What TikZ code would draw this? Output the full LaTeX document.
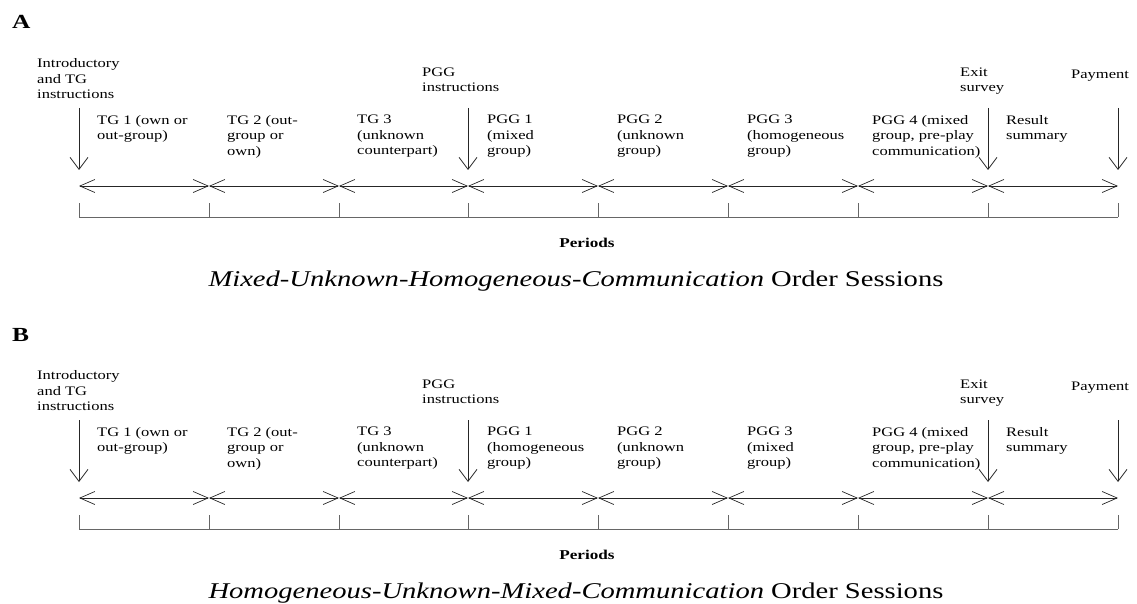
\documentclass[tikz,border=0pt]{standalone}
\usepackage{fontspec}
\setmainfont{Liberation Serif}[FakeStretch=1.27]
\usetikzlibrary{arrows.meta}

\tikzset{
  lbl/.style={anchor=north west,inner sep=0pt,align=left,
    font=\fontsize{13}{15.5}\selectfont,execute at begin node=\strut},
  span/.style={{Straight Barb[length=15pt,width=13pt]}-{Straight Barb[length=15pt,width=13pt]},
    draw=black!85,line width=0.7pt},
  drop/.style={-{Straight Barb[length=12pt,width=18pt]},draw=black!85,line width=0.8pt},
  axis/.style={draw=black!60,line width=0.9pt}
}

% #1 panel letter, #2 shift, #3 PGG 1 group, #4 PGG 3 group, #5 order
% label nodes sit with the first baseline 10.85 below the given y
\newcommand\session[5]{%
\begin{scope}[yshift=#2]
  \node[anchor=base west,inner sep=0pt,font=\fontsize{20}{20}\selectfont\bfseries] (#1) at (12,29) {#1};
  \foreach \i/\x in {0/79,1/209,2/339,3/468,4/598,5/728,6/858,7/988,8/1118} {
    \coordinate (#1t\i) at (\x,186);
    \coordinate (#1b\i) at (\x,217);
    \coordinate (#1d\i) at (\x,108);
    \coordinate (#1e\i) at (\x,170);
    \draw[axis] (#1b\i) -- ++(0,-14);
  }
  \draw[axis] (#1b0) -- (#1b8);
  \foreach \i [evaluate=\i as \j using int(\i+1)] in {0,...,7}
    \draw[span] (#1t\i) -- (#1t\j);
  % entry points
  \node[lbl] (#1intro) at (37,58.5) {Introductory\\and TG\\instructions};
  \node[lbl] (#1pgg) at (422,67.5) {PGG\\instructions};
  \node[lbl] (#1exit) at (960,67.5) {Exit\\survey};
  \node[lbl] (#1pay) at (1071,67.5) {Payment};
  \draw[drop] (#1d0) -- (#1e0);
  \draw[drop] (#1d3) -- (#1e3);
  \draw[drop] (#1d7) -- (#1e7);
  \draw[drop] (#1d8) -- (#1e8);
  % periods
  \node[lbl] (#1tg1) at (97,115) {TG 1 (own or\\out-group)};
  \node[lbl] (#1tg2) at (227,115) {TG 2 (out-\\group or\\own)};
  \node[lbl] (#1tg3) at (357,115) {TG 3\\(unknown\\counterpart)};
  \node[lbl] (#1p1) at (487,115) {PGG 1\\(#3\\group)};
  \node[lbl] (#1p2) at (617,115) {PGG 2\\(unknown\\group)};
  \node[lbl] (#1p3) at (747,115) {PGG 3\\(#4\\group)};
  \node[lbl] (#1p4) at (872,115) {PGG 4 (mixed\\group, pre-play\\communication)};
  \node[lbl] (#1res) at (1006,115) {Result\\summary};
  \node[anchor=base,inner sep=0pt,font=\fontsize{13.5}{14}\selectfont\bfseries] (#1per) at (587,247) {Periods};
  \node[anchor=base,inner sep=0pt,font=\fontsize{22.5}{24}\selectfont] (#1cap) at (576,286) {\textit{#5} Order Sessions};
\end{scope}}

\begin{document}
\begin{tikzpicture}[x=1pt,y=-1pt]
  \useasboundingbox (0,0) rectangle (1137,604);
  \session{A}{0pt}{mixed}{homogeneous}{Mixed-Unknown-Homogeneous-Communication}
  \session{B}{-312pt}{homogeneous}{mixed}{Homogeneous-Unknown-Mixed-Communication}
\end{tikzpicture}
\end{document}
